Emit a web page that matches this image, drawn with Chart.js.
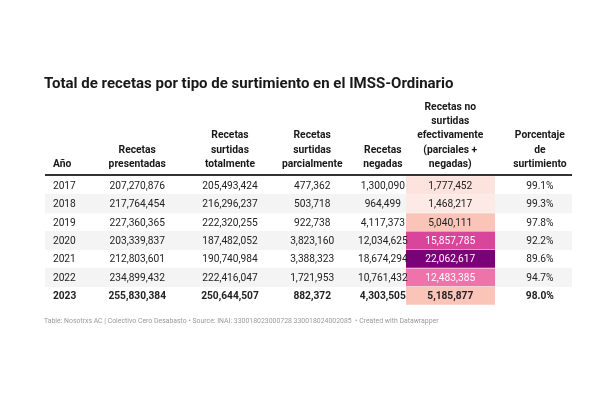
<!DOCTYPE html>
<html><head><meta charset="utf-8">
<script src="https://cdn.jsdelivr.net/npm/chart.js@4"></script>
<style>body{margin:0;background:#fff}canvas{display:block}</style>
</head><body>
<canvas id="c" width="600" height="400"></canvas>
<script>
// datos de la tabla
const years = ['2017', '2018', '2019', '2020', '2021', '2022', '2023'];
const presentadas = ['207,270,876', '217,764,454', '227,360,365', '203,339,837', '212,803,601', '234,899,432', '255,830,384'];
const totales = ['205,493,424', '216,296,237', '222,320,255', '187,482,052', '190,740,984', '222,416,047', '250,644,507'];
const parciales = ['477,362', '503,718', '922,738', '3,823,160', '3,388,323', '1,721,953', '882,372'];
const negadas = ['1,300,090', '964,499', '4,117,373', '12,034,625', '18,674,294', '10,761,432', '4,303,505'];
const noSurtidas = [1777452, 1468217, 5040111, 15857785, 22062617, 12483385, 5185877];
const porcentaje = ['99.1%', '99.3%', '97.8%', '92.2%', '89.6%', '94.7%', '98.0%'];
const headers = [['Año'], ['Recetas', 'presentadas'], ['Recetas', 'surtidas', 'totalmente'],
  ['Recetas', 'surtidas', 'parcialmente'], ['Recetas', 'negadas'],
  ['Recetas no', 'surtidas', 'efectivamente', '(parciales +', 'negadas)'], ['Porcentaje', 'de', 'surtimiento']];

// colores de la columna resaltada
const heatColors = ['#fde3de', '#fde9e5', '#fbc4b9', '#d9459b', '#7a0177', '#f072aa', '#fbc4b9'];
const stripeColor = '#f4f4f4';

// posición de columnas en % del ancho de la tabla
const colX = [1.5, 17.5, 35.1, 50.7, 64.1, 76.9, 93.9];
const heatCol = [68.5, 85.4];

const fmt = n => n.toLocaleString('en-US');
const font = (w, s) => `${w} ${s}px Roboto, "Liberation Sans", sans-serif`;

const tablePlugin = {
  id: 'tabla',
  afterDatasetsDraw(chart) {
    const { ctx, scales: { x, y }, chartArea: a } = chart;
    ctx.save();
    // título
    ctx.fillStyle = '#181818';
    ctx.font = font(700, 15);
    ctx.textAlign = 'left';
    ctx.textBaseline = 'alphabetic';
    ctx.fillText('Total de recetas por tipo de surtimiento en el IMSS-Ordinario', 44, 88);
    // encabezados
    ctx.font = font(700, 10.3);
    headers.forEach((lines, i) => {
      ctx.textAlign = i === 0 ? 'left' : 'center';
      const px = x.getPixelForValue(colX[i]);
      lines.forEach((t, j) => {
        ctx.fillText(t, px, a.top - 9 - (lines.length - 1 - j) * 14.3);
      });
    });
    ctx.fillStyle = '#333';
    ctx.fillRect(a.left, a.top - 2, a.right - a.left, 2);
    // filas
    const cols = [years, presentadas, totales, parciales, negadas, noSurtidas.map(fmt), porcentaje];
    ctx.textBaseline = 'middle';
    years.forEach((yr, r) => {
      const py = y.getPixelForValue(r);
      const bold = r === years.length - 1;
      ctx.font = font(bold ? 700 : 400, 10.2);
      cols.forEach((col, i) => {
        ctx.textAlign = i === 0 ? 'left' : 'center';
        ctx.fillStyle = (i === 5 && noSurtidas[r] > 10000000) ? '#fff' : '#222';
        ctx.fillText(col[r], x.getPixelForValue(colX[i]), py + 1);
      });
    });
    // pie
    ctx.font = font(400, 6.9);
    ctx.fillStyle = '#9a9a9a';
    ctx.textAlign = 'left';
    ctx.fillText('Table: Nosotrxs AC | Colectivo Cero Desabasto • Source: INAI: 330018023000728 330018024002085  • Created with Datawrapper', 44, 321);
    ctx.restore();
  }
};

new Chart(document.getElementById('c'), {
  type: 'bar',
  data: {
    labels: years.map((_, i) => i),
    datasets: [
      {
        label: 'franjas',
        data: years.map((_, i) => i % 2 === 1 ? [0, 100] : null),
        backgroundColor: stripeColor,
        grouped: false, barPercentage: 1, categoryPercentage: 1, order: 2
      },
      {
        label: 'no surtidas',
        data: years.map(() => heatCol),
        backgroundColor: heatColors,
        grouped: false, barPercentage: 1, categoryPercentage: 0.97, order: 1
      }
    ]
  },
  options: {
    indexAxis: 'y',
    responsive: false,
    animation: false,
    layout: { padding: { left: 45, right: 28, top: 176, bottom: 95 } },
    plugins: { legend: { display: false }, tooltip: { enabled: false } },
    scales: {
      x: { type: 'linear', min: 0, max: 100, display: false },
      y: { type: 'category', display: false, offset: true }
    }
  },
  plugins: [tablePlugin]
});
</script>
</body></html>
